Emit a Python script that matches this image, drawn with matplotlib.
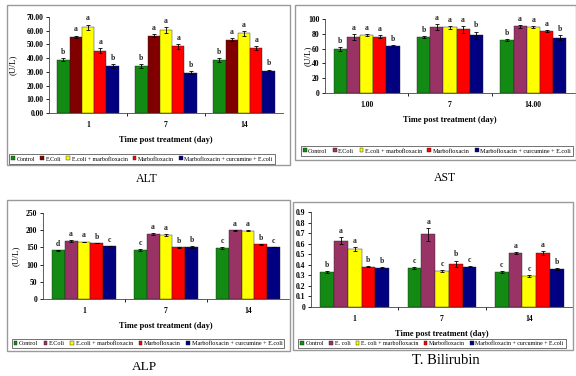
import numpy as np
import matplotlib.pyplot as plt
from matplotlib.patches import Rectangle

plt.rcParams['font.family'] = ['Liberation Serif', 'DejaVu Serif']

W, H = 576, 376

# ---- data ----
labels = ["Control", "E.Coli", "E.coli + marbofloxacin", "Marbofloxacin",
          "Marbofloxacin + curcumine + E.coli"]
labels_tb = ["Control", "E. coli", "E. coli + marbofloxacin", "Marbofloxacin",
             "Marbofloxacin + curcumine + E.coli"]

days = ["1", "7", "14"]
days_ast = ["1.00", "7", "14.00"]

# rows = groups, columns = days
alt_vals = [[39.0, 34.5, 38.5], [55.5, 56.5, 53.5], [62.5, 60.5, 58.0],
            [45.5, 48.5, 47.5], [34.5, 29.5, 30.5]]
alt_err = [[1.0, 1.5, 1.5], [1.0, 1.2, 1.0], [2.0, 2.0, 1.5],
           [2.0, 2.0, 1.5], [1.5, 0.8, 1.2]]
alt_let = [["b", "b", "b"], ["a", "a", "a"], ["a", "a", "a"],
           ["a", "a", "a"], ["b", "b", "b"]]

ast_vals = [[59, 76, 72], [76, 89, 90], [78, 89, 89], [76, 86, 84], [63, 78, 75]]
ast_err = [[2.5, 1.0, 1.5], [4.0, 4.0, 2.0], [1.5, 2.0, 1.0],
           [2.0, 5.0, 1.0], [1.5, 5.0, 3.0]]
ast_let = [["b", "b", "b"], ["a", "a", "a"], ["a", "a", "a"],
           ["a", "a", "a"], ["b", "b", "b"]]

alp_vals = [[141, 143, 148], [168, 189, 200], [166, 186, 199],
            [163, 150, 159], [154, 151, 151]]
alp_err = [[2, 3, 2], [3, 3, 1], [1, 2, 1], [1, 2, 1], [1, 2, 1]]
alp_let = [["d", "c", "c"], ["a", "a", "a"], ["a", "a", "a"],
           ["b", "b", "b"], ["c", "b", "c"]]

tb_vals = [[0.33, 0.37, 0.33], [0.63, 0.69, 0.51], [0.55, 0.34, 0.29],
           [0.38, 0.41, 0.51], [0.37, 0.38, 0.36]]
tb_err = [[0.01, 0.01, 0.01], [0.03, 0.06, 0.01], [0.02, 0.01, 0.01],
          [0.005, 0.03, 0.02], [0.005, 0.005, 0.005]]
tb_let = [["b", "c", "c"], ["a", "a", "a"], ["a", "c", "c"],
          ["b", "b", "a"], ["b", "c", "b"]]

colors1 = ["#138a13", "#800000", "#ffff00", "#ff0000", "#000080"]
colors2 = ["#138a13", "#993366", "#ffff00", "#ff0000", "#000080"]


def box(x0, y0, x1, y1):
    return [x0 / W, 1 - y1 / H, (x1 - x0) / W, (y1 - y0) / H]


def panel(fig, frame, axpos, vals, err, lets, cats, cols, names, ylim, yticks,
          yfmt, ylab, ylabx, legc, legfs, cap, capxy, capsize):
    fx0, fy0, fx1, fy1 = frame
    fig.patches.append(Rectangle((fx0 / W, 1 - fy1 / H), (fx1 - fx0) / W,
                                 (fy1 - fy0) / H, transform=fig.transFigure,
                                 fill=False, edgecolor="#9a9a9a", lw=1.0))
    ax = fig.add_axes(box(*axpos))
    x = np.arange(len(cats))
    w = 0.158
    handles = []
    for i in range(len(vals)):
        xi = x + (i - 2) * w
        b = ax.bar(xi, vals[i], w, color=cols[i], edgecolor="#222222", lw=0.3,
                   yerr=err[i], error_kw=dict(ecolor="black", elinewidth=0.6,
                                              capsize=1.5, capthick=0.6))
        handles.append(b)
        for j in range(len(cats)):
            ax.annotate(lets[i][j], (xi[j], vals[i][j] + err[i][j]),
                        xytext=(0, 1.5), textcoords="offset points",
                        ha="center", va="bottom", fontsize=5.5,
                        fontweight="bold", color="#222222")
    ax.set_xlim(-0.5, len(cats) - 0.5)
    ax.set_ylim(*ylim)
    ax.set_yticks(yticks)
    ax.set_yticklabels([yfmt(v) for v in yticks])
    ax.set_xticks(x)
    ax.set_xticklabels(cats)
    ax.set_xticks([0.5, 1.5], minor=True)
    ax.tick_params(axis="x", which="major", length=0, pad=6)
    ax.tick_params(axis="x", which="minor", length=2.5, width=0.6,
                   direction="out")
    ax.tick_params(axis="y", length=2.5, width=0.6, pad=1.5)
    for lab in ax.get_xticklabels() + ax.get_yticklabels():
        lab.set_fontsize(5.5)
        lab.set_fontweight("bold")
    for s in ["top", "right"]:
        ax.spines[s].set_visible(False)
    for s in ["left", "bottom"]:
        ax.spines[s].set_linewidth(0.6)
        ax.spines[s].set_color("#444444")
    ax.set_xlabel("Time post treatment (day)", fontsize=6, fontweight="bold",
                  labelpad=5)
    if ylab:
        fig.text(ylabx / W, 1 - (axpos[1] + axpos[3]) / 2 / H, ylab,
                 rotation=90, ha="center", va="center", fontsize=6.5)
    lg = fig.legend(handles, names, loc="center",
                    bbox_to_anchor=(legc[0] / W, 1 - legc[1] / H), ncol=5,
                    fontsize=legfs, frameon=True, fancybox=False,
                    handlelength=0.6, handleheight=0.6, handletextpad=0.25,
                    columnspacing=0.9, borderpad=0.35, borderaxespad=0)
    lg.get_frame().set_edgecolor("#333333")
    lg.get_frame().set_linewidth(0.6)
    fig.text(capxy[0] / W, 1 - capxy[1] / H, cap, ha="center", va="center",
             fontsize=capsize)
    return ax


fig = plt.figure(figsize=(W / 100, H / 100), dpi=100)

panel(fig, (7, 5, 290, 165), (49, 17, 283, 113), alt_vals, alt_err, alt_let,
      days, colors1, labels, (0, 70), np.arange(0, 71, 10),
      lambda v: "%.2f" % v, "(U/L)", 13, (142, 159), 4.3,
      "ALT", (147, 179), 8.5)

panel(fig, (295, 5, 576, 160), (325, 19, 575, 93), ast_vals, ast_err, ast_let,
      days_ast, colors2, labels, (0, 100), np.arange(0, 101, 20),
      lambda v: "%d" % v, "(U/L)", 308, (437, 151), 4.4,
      "AST", (445, 178), 8.5)

panel(fig, (7, 200, 290, 351), (43, 213, 289, 299), alp_vals, alp_err, alp_let,
      days, colors2, labels, (0, 250), np.arange(0, 251, 50),
      lambda v: "%d" % v, "(U/L)", 16, (148, 343.5), 4.45,
      "ALP", (144, 367), 9.5)

panel(fig, (293, 202, 573, 350), (311, 212, 573, 307), tb_vals, tb_err, tb_let,
      days, colors2, labels_tb, (0, 0.9), np.round(np.arange(0, 0.91, 0.1), 1),
      lambda v: "0" if v == 0 else "%g" % v, None, 0, (432, 343.5), 4.35,
      "T. Bilirubin", (446, 361), 10.5)

fig.savefig("out.png", dpi=100)
